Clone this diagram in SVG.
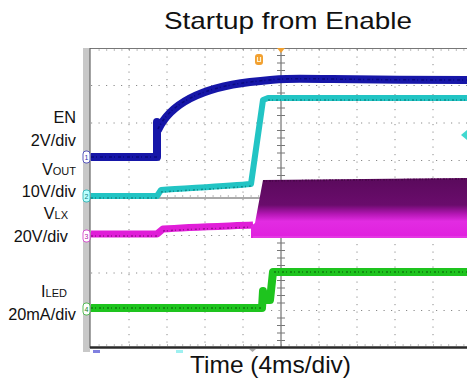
<svg xmlns="http://www.w3.org/2000/svg" width="467" height="381" viewBox="0 0 467 381">
<style>
.lbl{font-family:"Liberation Sans",Arial,sans-serif;font-size:16.3px;fill:#111;text-anchor:end}
.sub{font-size:11px}
.grid{stroke:#8a8a8a;stroke-width:1;stroke-dasharray:1.2 6.3;fill:none}
.axis{stroke:#555;stroke-width:1;fill:none}
.tick{stroke:#777;stroke-width:1;fill:none}
.tr{fill:none;stroke-linejoin:round;stroke-linecap:butt}
.cm{font-family:"Liberation Sans",Arial,sans-serif;font-size:7px;text-anchor:middle}
</style>
<defs>
<linearGradient id="sw" x1="0" y1="178" x2="0" y2="238" gradientUnits="userSpaceOnUse">
<stop offset="0" stop-color="#5a0a5c"/>
<stop offset="0.45" stop-color="#6a0c6c"/>
<stop offset="0.6" stop-color="#b416b4"/>
<stop offset="0.72" stop-color="#e22ce2"/>
<stop offset="1" stop-color="#e020de"/>
</linearGradient>
</defs>
<rect width="467" height="381" fill="#fff"/>
<g id="title"><text x="164" y="29" style="font-family:'Liberation Sans',Arial,sans-serif;font-size:24px;fill:#111" textLength="248" lengthAdjust="spacingAndGlyphs">Startup from Enable</text></g>
<g id="screen">
<rect x="83" y="48" width="7" height="304" fill="#c8c8c8"/>
<rect x="90" y="48" width="377" height="300" fill="#fff"/>
<g id="grid">
<path class="grid" d="M129,49V347M167,49V347M205,49V347M243,49V347M319,49V347M357,49V347M395,49V347M433,49V347"/>
<path class="grid" d="M91,85.5H467M91,123H467M91,160.5H467M91,235.5H467M91,273H467M91,310.5H467"/>
<path class="axis" d="M281,48V347M90,198H467"/>
<path class="tick" d="M277,55.5h8M277,63h8M277,70.5h8M277,78h8M277,93h8M277,100.5h8M277,108h8M277,115.5h8M277,130.5h8M277,138h8M277,145.5h8M277,153h8M277,168h8M277,175.5h8M277,183h8M277,190.5h8M277,205.5h8M277,213h8M277,220.5h8M277,228h8M277,243h8M277,250.5h8M277,258h8M277,265.5h8M277,280.5h8M277,288h8M277,295.5h8M277,303h8M277,318h8M277,325.5h8M277,333h8M277,340.5h8"/>
<path class="tick" d="M90,48.5H467" stroke="#666"/>
<path class="tick" stroke-dasharray="1 6.6" d="M98.6,50H467M98.6,345H467M98.6,196H467"/>
<path d="M90,48V348" stroke="#666" stroke-width="1.2"/>
<path d="M90,347.5H467" stroke="#2a2a2a" stroke-width="2.5"/>
</g>
</g>
<g id="traces">
<g id="en-trace">
<path class="tr" d="M91,157H157V122L158,130C170,104 200,88 250,82S290,80 467,80" stroke="#1616a8" stroke-width="8"/>
<path class="tr" d="M91,157H157M158,129C170,104 200,88 250,82S290,80 467,80" stroke="#0a0a80" stroke-width="1.5" stroke-dasharray="3 2 1 3"/>
</g>
<g id="vout-trace">
<path class="tr" d="M91,196H157L161,190C190,188 230,186 251,184L263,100L268,98H467" stroke="#22c4c4" stroke-width="6"/>
<path class="tr" d="M91,198H157M161,192C190,190 230,188 251,186M268,100H467" stroke="#0f8c8c" stroke-width="1.5" stroke-dasharray="2 2 1 3"/>
</g>
<g id="vlx-trace">
<path class="tr" d="M91,234H157L163,229C190,227 230,226 253,225" stroke="#e01ed8" stroke-width="7"/>
<path class="tr" d="M91,236H157M163,231C190,229 230,228 253,227" stroke="#9a0e96" stroke-width="1.5" stroke-dasharray="2 2 1 3"/>
<path d="M251,238V226L255,223L263,180L467,178V238Z" fill="url(#sw)"/>
<path d="M263,181L467,179" stroke="#4a064a" stroke-width="1.5" stroke-dasharray="2 1 1 2"/>
<path d="M253,237H467" stroke="#f070f0" stroke-width="1" opacity="0.6"/>
</g>
<g id="iled-trace">
<path class="tr" d="M91,308H262L263,291L265,300H270L273,272H467" stroke="#1ec41e" stroke-width="8"/>
<path class="tr" d="M91,308H261M274,272H467" stroke="#0e7e0e" stroke-width="1.5" stroke-dasharray="2 2 1 3"/>
</g>
</g>
<g id="markers">
<g id="ch1-marker"><rect x="83" y="151" width="7" height="12" rx="3" fill="#fff" stroke="#3030b0" stroke-width="0.8"/><text class="cm" x="86.5" y="160" fill="#3030b0">1</text></g>
<g id="ch2-marker"><rect x="83" y="190" width="7" height="12" rx="3" fill="#bff" stroke="#20b0b0" stroke-width="0.8"/><text class="cm" x="86.5" y="199" fill="#108080">2</text></g>
<g id="ch3-marker"><rect x="83" y="230" width="7" height="12" rx="3" fill="#fff" stroke="#d030c8" stroke-width="0.8"/><text class="cm" x="86.5" y="239" fill="#b020a8">3</text></g>
<g id="ch4-marker"><rect x="83" y="303" width="7" height="12" rx="3" fill="#fff" stroke="#30b030" stroke-width="0.8"/><text class="cm" x="86.5" y="312" fill="#208020">4</text></g>
<g id="trig-marker"><rect x="255" y="54" width="8" height="11" rx="3" fill="#f2a030"/><path d="M257.5,57V61.5H260.5V57" stroke="#fff3d0" stroke-width="1.2" fill="none"/></g>
<g id="trig-pos"><path d="M277,48H285L281,53Z" fill="#f0a030"/></g>
<g id="trig-level"><path d="M467,130L461,135L467,140Z" fill="#40d8d0"/></g>
<rect x="93" y="350" width="7" height="3" fill="#8080e0"/>
<rect x="176" y="350" width="7" height="3" fill="#9ef0f0"/>
<path d="M249,349H256L252.5,352Z" fill="#aaa"/>
</g>
<g id="labels">
<text class="lbl" x="76" y="123">EN</text>
<text class="lbl" x="76" y="146">2V/div</text>
<text class="lbl" x="76" y="175">V<tspan class="sub">OUT</tspan></text>
<text class="lbl" x="76" y="197">10V/div</text>
<text class="lbl" x="68" y="219">V<tspan class="sub">LX</tspan></text>
<text class="lbl" x="68" y="242">20V/div</text>
<text class="lbl" x="67" y="297">I<tspan class="sub">LED</tspan></text>
<text class="lbl" x="76" y="320">20mA/div</text>
</g>
<g id="xlabel"><text x="190" y="373" style="font-family:'Liberation Sans',Arial,sans-serif;font-size:24px;fill:#111" textLength="161" lengthAdjust="spacingAndGlyphs">Time (4ms/div)</text></g>
</svg>
